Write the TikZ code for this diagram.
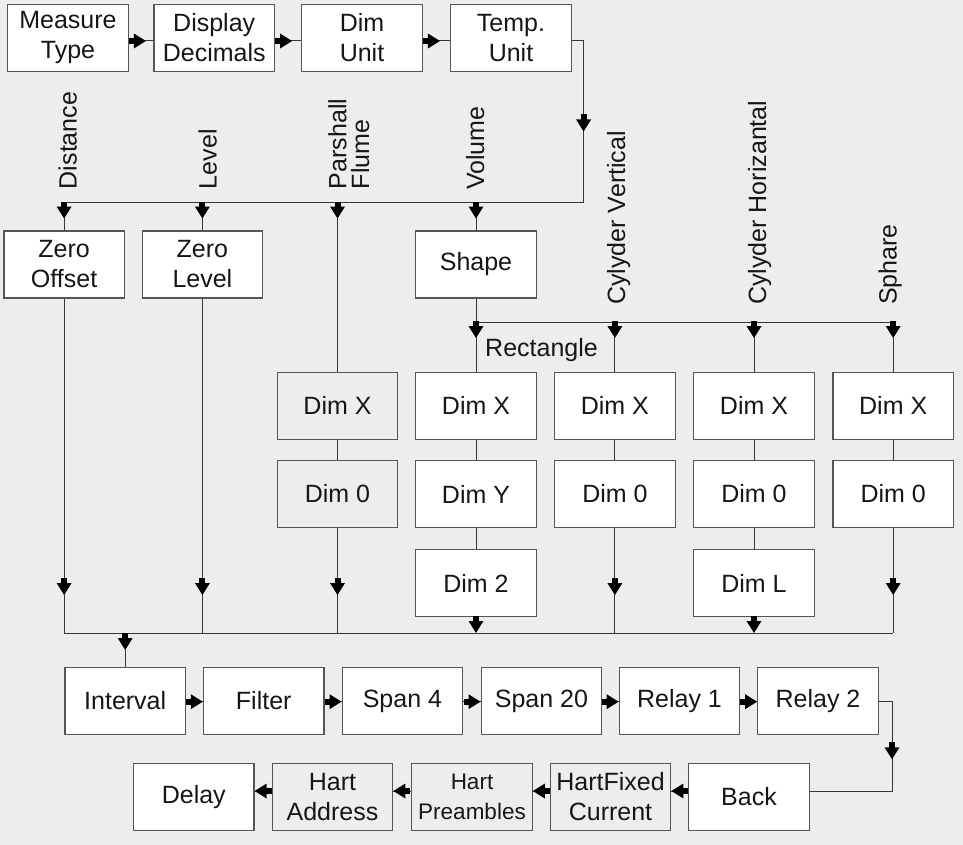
\documentclass[tikz,border=0pt]{standalone}
\usepackage{fontspec}
\setmainfont{Liberation Sans}
\usetikzlibrary{calc}
\definecolor{bg}{RGB}{237,237,237}
\definecolor{ln}{RGB}{55,55,55}
\definecolor{bd}{RGB}{85,85,85}
\definecolor{tx}{RGB}{22,22,22}
\tikzset{
  box/.style={draw=bd, line width=1.3pt, fill=white, minimum width=120.5pt, minimum height=67pt,
    inner sep=0pt, align=center, text=tx, font=\fontsize{25}{30}\selectfont},
  gbox/.style={box, fill=none},
  wire/.style={draw=ln, line width=1pt},
  lbl/.style={rotate=90, anchor=base west, inner sep=0pt, text=tx, font=\fontsize{25}{22.7}\selectfont},
  mk/.pic={\fill[black] (-17,-3) rectangle (-11.5,3); \fill[black] (-12,-7.5) -- (0,0) -- (-12,7.5) -- cycle;}
}
\begin{document}
\begin{tikzpicture}[x=1pt,y=-1pt]
\fill[bg] (0,0) rectangle (963,845);
\useasboundingbox (0,0) rectangle (963,845);
% top row
\node[box] (mt) at (68,37.7) {Measure\\Type};
\node[box] (dd) at (214.2,37.7) {Display\\Decimals};
\node[box] (du) at (362,37.7) {Dim\\Unit};
\node[box] (tu) at (511,37.7) {Temp.\\Unit};
% second row
\node[box] (zo) at (64.1,264.5) {Zero\\Offset};
\node[box] (zl) at (202.4,264.5) {Zero\\Level};
\node[box] (sh) at (476,264.5) {Shape};
% dims
\node[gbox] (px) at (337.5,405.8) {Dim X};
\node[gbox] (p0) at (337.5,494) {Dim 0};
\node[box] (rx) at (476,405.8) {Dim X};
\node[box] (ry) at (476,494) {Dim Y};
\node[box] (r2) at (476,583) {Dim 2};
\node[box] (vx) at (614.9,405.8) {Dim X};
\node[box] (v0) at (614.9,494) {Dim 0};
\node[box] (hx) at (754,405.8) {Dim X};
\node[box] (h0) at (754,494) {Dim 0};
\node[box] (hl) at (754,583) {Dim L};
\node[box] (sx) at (893.2,405.8) {Dim X};
\node[box] (s0) at (893.2,494) {Dim 0};
% row of settings
\node[box] (iv) at (125.2,701) {Interval};
\node[box] (fi) at (263.7,701) {Filter};
\node[box] (sa) at (402.4,701) {Span 4};
\node[box] (sb) at (541.4,701) {Span 20};
\node[box] (ra) at (679.5,701) {Relay 1};
\node[box] (rb) at (818,701) {Relay 2};
% bottom row
\node[box] (de) at (193.8,797) {Delay};
\node[gbox] (ha) at (332.5,797) {Hart\\Address};
\node[gbox, font=\fontsize{22.5}{30}\selectfont] (hp) at (472,797) {Hart\\Preambles};
\node[gbox] (hf) at (610.5,797) {HartFixed\\Current};
\node[box] (bk) at (749,797) {Back};
% labels
\node[lbl] (lDist) at (76.7,189.3) {Distance};
\node[lbl] (lLev) at (216.7,189.3) {Level};
\node[lbl, anchor=south west, align=left] (lPar) at (369.5,189.3) {Parshall\\Flume};
\node[lbl] (lVol) at (484,190) {Volume};
\node[lbl] (lCV) at (625,305) {Cylyder Vertical};
\node[lbl] (lCH) at (766,305) {Cylyder Horizantal};
\node[lbl] (lSph) at (896.5,305) {Sphare};
\node[anchor=base west, inner sep=0pt, text=tx, font=\fontsize{25}{30}\selectfont] (lRect) at (485,356) {Rectangle};
% helper coordinates
\coordinate (tr) at (583.6,41);
\coordinate (tb) at (583.6,202);
\coordinate (sbus) at (0,322);
\coordinate (lbus) at (0,633);
\coordinate (rr) at (892,701.5);
\coordinate (rd) at (892,791);
% top row connectors
\foreach \a/\b in {mt/dd,dd/du,du/tu}{
  \draw[wire] ($(\a.east)+(0,3.3)$) -- ($(\b.west)+(0,3.3)$);
  \pic at ($(\a.east)+(17,3.3)$) {mk};
}
% top bus
\draw[wire] ($(tu.east)+(0,3.3)$) -- (tr) -- (tb) -- (zo.north |- tb) -- (zo.north);
\pic[rotate=-90] at (583.6,131.5) {mk};
\foreach \n in {zo,zl,sh,px}{
  \draw[wire] (\n.north |- tb) -- (\n.north);
  \pic[rotate=-90] at ($(\n.north |- tb)+(0,16.5)$) {mk};
}
% shape bus
\draw[wire] (sh.south) -- (rx.north);
\draw[wire] (sh.south |- sbus) -- (sx.north |- sbus);
\foreach \n in {rx,vx,hx,sx}{
  \draw[wire] (\n.north |- sbus) -- (\n.north);
  \pic[rotate=-90] at ($(\n.north |- sbus)+(0,16)$) {mk};
}
% vertical links between dims
\foreach \a/\b in {px/p0,rx/ry,ry/r2,vx/v0,hx/h0,h0/hl,sx/s0}{
  \draw[wire] (\a.south) -- (\b.north);
}
% lower bus
\draw[wire] (zo.south |- lbus) -- (s0.south |- lbus);
\foreach \n in {zo,zl,p0,v0,s0}{
  \draw[wire] (\n.south) -- (\n.south |- lbus);
  \pic[rotate=-90] at (\n.south |- 0,595) {mk};
}
\foreach \n in {r2,hl}{
  \pic[rotate=-90] at (\n.south |- lbus) {mk};
}
\draw[wire] (iv.north |- lbus) -- (iv.north);
\pic[rotate=-90] at ($(iv.north |- lbus)+(0,17)$) {mk};
% settings row
\foreach \a/\b in {iv/fi,fi/sa,sa/sb,sb/ra,ra/rb}{
  \draw[wire] ($(\a.east)+(0,0.7)$) -- ($(\b.west)+(0,0.7)$);
  \pic at ($(\b.west)+(0,0.7)$) {mk};
}
\draw[wire] ($(rb.east)+(0,0.5)$) -- (rr) -- (rd) -- ($(bk.east)+(0,-6)$);
\pic[rotate=-90] at (892,759.3) {mk};
% bottom row
\foreach \a/\b in {bk/hf,hf/hp,hp/ha,ha/de}{
  \draw[wire] ($(\a.west)+(0,-6)$) -- ($(\b.east)+(0,-6)$);
  \pic[rotate=180] at ($(\b.east)+(0,-6)$) {mk};
}
\end{tikzpicture}
\end{document}
